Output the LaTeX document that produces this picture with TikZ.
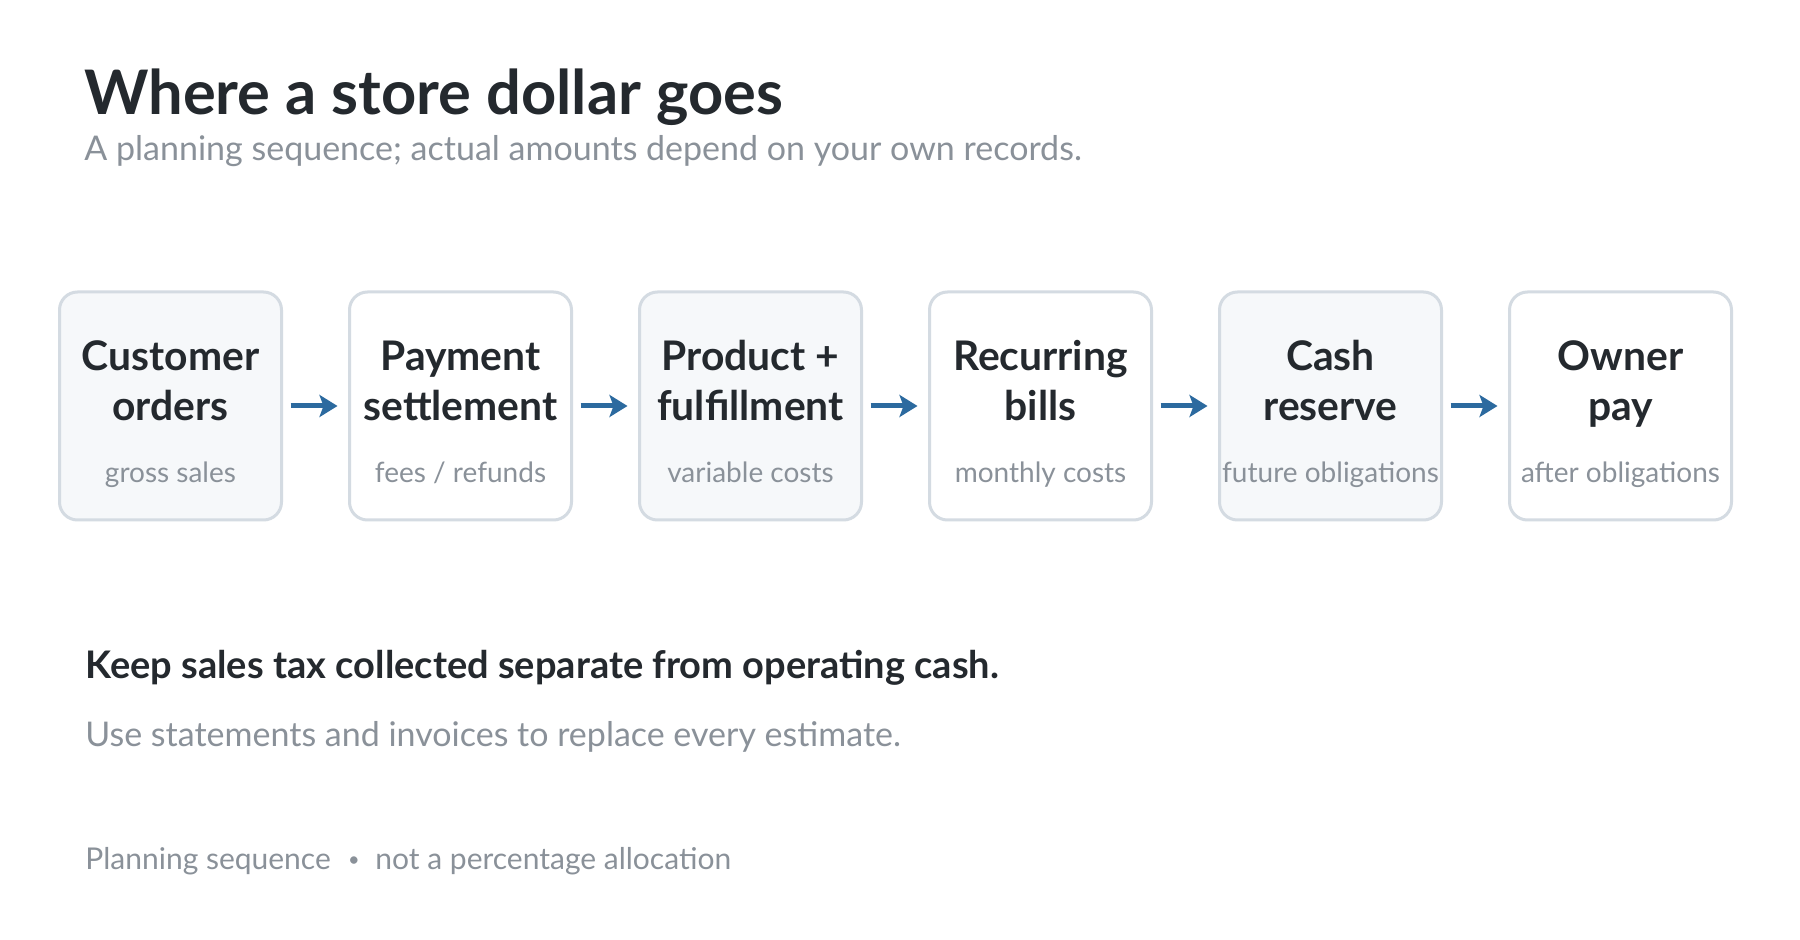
\documentclass[tikz,border=0pt]{standalone}
\usepackage{fontspec}
\setmainfont{Lato}
\usetikzlibrary{arrows.meta}
\definecolor{ink}{HTML}{24292E}
\definecolor{muted}{HTML}{8A9199}
\definecolor{edge}{HTML}{D4DBE2}
\definecolor{soft}{HTML}{F6F8FA}
\definecolor{flow}{HTML}{2C6A9F}
\tikzset{
  stagebox/.style={draw=edge, line width=1.5pt, rounded corners=9pt, minimum width=111pt, minimum height=114pt, outer sep=0pt, inner sep=0pt},
  stagetitle/.style={text=ink, font=\fontsize{20.4}{25}\selectfont\bfseries, inner sep=0pt, anchor=base},
  stagesub/.style={text=muted, font=\fontsize{14}{17}\selectfont, inner sep=0pt, anchor=base},
  flowarrow/.style={draw=flow, line width=2.5pt, -{Stealth[length=9pt,width=11pt,inset=2pt]}, shorten <=4.5pt, shorten >=6pt},
  plain/.style={inner sep=0pt, anchor=base west}
}
\begin{document}
\begin{tikzpicture}[x=0.5pt,y=-0.5pt]
\path[use as bounding box, fill=white] (0,0) rectangle (1800,940);
\node[plain, text=ink, font=\fontsize{30.7}{36}\selectfont\bfseries] (title) at (84,115) {Where a store dollar goes};
\node[plain, text=muted, font=\fontsize{17}{20}\selectfont] (subtitle) at (84,161) {A planning sequence; actual amounts depend on your own records.};
\foreach \i/\a/\b/\s/\f in {1/Customer/orders/{gross sales}/soft,
                             2/Payment/settlement/{fees / refunds}/white,
                             3/{Product +}/fulfillment/{variable costs}/soft,
                             4/Recurring/bills/{monthly costs}/white,
                             5/Cash/reserve/{future obligations}/soft,
                             6/Owner/pay/{after obligations}/white}{
  \pgfmathsetmacro{\cx}{170.5+290*(\i-1)}
  \node[stagebox, fill=\f] (b\i) at (\cx,406) {};
  \node[stagetitle] (t\i a) at (\cx,371) {\a};
  \node[stagetitle] (t\i b) at (\cx,420.5) {\b};
  \node[stagesub] (s\i) at (\cx,482.5) {\s};
}
\foreach \i [evaluate=\i as \j using int(\i+1)] in {1,...,5}
  \draw[flowarrow] (b\i) -- (b\j);
\node[plain, text=ink, font=\fontsize{19}{22}\selectfont\bfseries] (keep) at (85,679) {Keep sales tax collected separate from operating cash.};
\node[plain, text=muted, font=\fontsize{17}{20}\selectfont] (use) at (85,747) {Use statements and invoices to replace every estimate.};
\node[plain, text=muted, font=\fontsize{15}{18}\selectfont] (foot1) at (85,870) {Planning sequence};
\node[inner sep=0pt, anchor=base, text=muted, font=\fontsize{10}{12}\selectfont] (dot) at (354,866) {•};
\node[plain, text=muted, font=\fontsize{15}{18}\selectfont] (foot2) at (375,870) {not a percentage allocation};
\end{tikzpicture}
\end{document}
